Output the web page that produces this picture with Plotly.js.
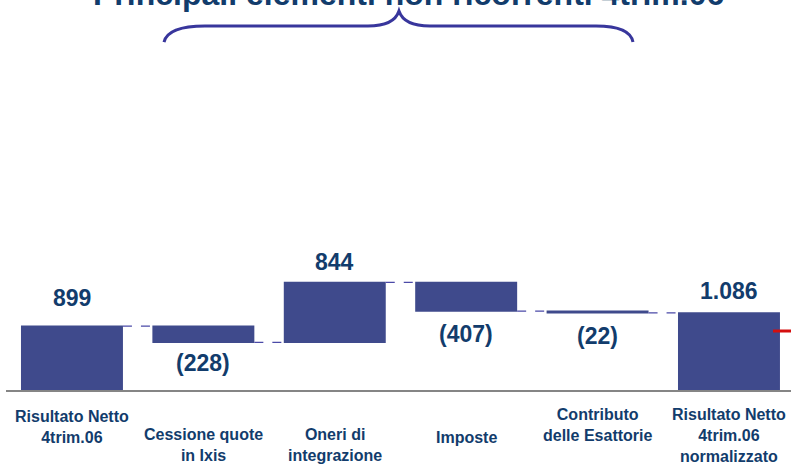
<!DOCTYPE html>
<html>
<head>
<meta charset="utf-8">
<script src="https://cdn.plot.ly/plotly-3.0.1.min.js"></script>
<style>html,body{margin:0;padding:0;background:#fff;}#chart{width:791px;height:466px;}</style>
</head>
<body>
<div id="chart"></div>
<script>
// ---- data ----
const categories = ['Risultato Netto<br>4trim.06', 'Cessione quote<br>in Ixis', 'Oneri di<br>integrazione', 'Imposte', 'Contributo<br>delle Esattorie', 'Risultato Netto<br>4trim.06<br>normalizzato'];
const measures = ['absolute', 'relative', 'relative', 'relative', 'relative', 'total'];
const values = [899, -228, 844, -407, -22, 0];
const valueLabels = ['899', '(228)', '844', '(407)', '(22)', '1.086'];
const titleText = 'Principali elementi non ricorrenti 4trim.06';

// ---- layout helpers (positions / styles) ----
const W = 791, H = 466;
const M = {l: 6, r: 0, t: 60, b: 76};
const PW = W - M.l - M.r, PH = H - M.t - M.b;
const px2x = px => (px - M.l) / PW;
const px2y = py => (H - M.b - py) / PH;
const navy = '#123c6c';
const labelShift = [28, -21, 20, -23, -23, 22];   // px offset of value label from bar end
const catLabelTop = [406, 424, 424, 427, 404, 404]; // px top of category label block

// cumulative ends computed from data
const ends = [];
let run = 0;
values.forEach((v, i) => {
  if (measures[i] === 'absolute') run = v;
  else if (measures[i] === 'relative') run += v;
  ends.push(run);
});

const trace = {
  type: 'waterfall',
  x: categories,
  y: values,
  measure: measures,
  increasing: {marker: {color: '#3f4a8c'}},
  decreasing: {marker: {color: '#3f4a8c'}},
  totals: {marker: {color: '#3f4a8c'}},
  connector: {mode: 'between', line: {color: '#4b4aa8', width: 1.2, dash: 'dash'}},
  textinfo: 'none',
  hoverinfo: 'skip'
};

const annotations = [];
categories.forEach((c, i) => {
  annotations.push({
    x: c, y: ends[i], xref: 'x', yref: 'y',
    text: '<b>' + valueLabels[i] + '</b>', showarrow: false,
    yanchor: 'middle', yshift: labelShift[i],
    font: {family: 'Liberation Sans, Arial, sans-serif', size: 23, color: navy}
  });
  annotations.push({
    x: c, y: px2y(catLabelTop[i]), xref: 'x', yref: 'paper',
    text: '<b>' + c + '</b>', showarrow: false,
    yanchor: 'top', align: 'center',
    font: {family: 'Liberation Sans, Arial, sans-serif', size: 16, color: navy}
  });
});
annotations.push({
  x: px2x(408), y: px2y(-6), xref: 'paper', yref: 'paper',
  text: '<b>' + titleText + '</b>', showarrow: false,
  xanchor: 'center', yanchor: 'middle',
  font: {family: 'Liberation Sans, Arial, sans-serif', size: 32, color: navy}
});

function P(x, y) { return px2x(x).toFixed(4) + ',' + px2y(y).toFixed(4); }
const bracePath = 'M' + P(164, 42) + ' Q' + P(168, 26) + ' ' + P(205, 26) +
  ' L' + P(368, 26) + ' Q' + P(394, 26) + ' ' + P(399, 11) +
  ' Q' + P(404, 26) + ' ' + P(430, 26) + ' L' + P(596, 26) +
  ' Q' + P(630, 26) + ' ' + P(633, 42);

const shapes = [
  {type: 'path', xref: 'paper', yref: 'paper', path: bracePath, line: {color: '#38369c', width: 3}},
  {type: 'line', xref: 'paper', yref: 'paper', x0: px2x(773), x1: px2x(791), y0: px2y(331), y1: px2y(331), line: {color: '#d40f0f', width: 3}}
];

const layout = {
  width: W, height: H,
  margin: M,
  paper_bgcolor: '#fff', plot_bgcolor: '#fff',
  showlegend: false,
  waterfallgap: 0.224,
  xaxis: {type: 'category', range: [-0.502, 5.472], showticklabels: false, ticks: '',
          showgrid: false, zeroline: false, showline: true, linecolor: '#858585', linewidth: 2, fixedrange: true},
  yaxis: {range: [0, PH / 0.0711], visible: false, showgrid: false, zeroline: false, fixedrange: true},
  annotations: annotations,
  shapes: shapes
};

Plotly.newPlot('chart', [trace], layout, {displayModeBar: false, staticPlot: true});
</script>
</body>
</html>
